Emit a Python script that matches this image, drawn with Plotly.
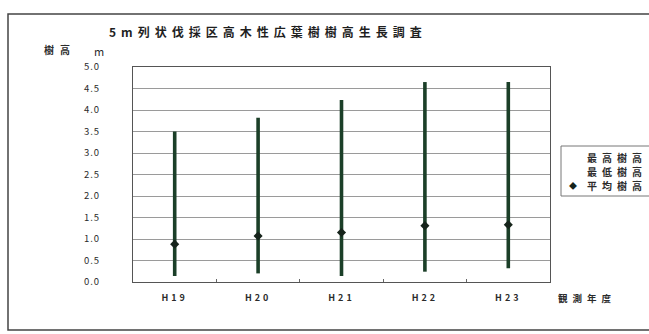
import plotly.graph_objects as go

# Survey years and tree-height statistics (m)
years = ["H19", "H20", "H21", "H22", "H23"]
max_height = [3.50, 3.82, 4.23, 4.65, 4.65]
min_height = [0.14, 0.20, 0.14, 0.24, 0.32]
mean_height = [0.88, 1.07, 1.15, 1.31, 1.33]
y_ticks = [0.0, 0.5, 1.0, 1.5, 2.0, 2.5, 3.0, 3.5, 4.0, 4.5, 5.0]
legend_labels = ["最高樹高", "最低樹高", "平均樹高"]

W, H = 649, 334
L, R, T, B = 133, 99, 67, 52
PW, PH = W - L - R, H - T - B
FONT = "Noto Sans CJK JP"
INK = "#2b2b2b"


def px(x):
    return (x - L) / PW


def py(y):
    return (H - B - y) / PH


def spaced(s, gap=4):
    return f'<span style="letter-spacing:{gap}px">{s}</span>'


fig = go.Figure()

# high-low lines between the lowest and highest tree of each year
hx, hy = [], []
for yr, lo, hi in zip(years, min_height, max_height):
    hx += [yr, yr, None]
    hy += [lo, hi, None]
fig.add_trace(go.Scatter(x=hx, y=hy, mode="lines",
                         line=dict(color="#1b3f28", width=3.6),
                         hoverinfo="skip", showlegend=False))

fig.add_trace(go.Scatter(x=years, y=max_height, mode="markers", name=legend_labels[0],
                         marker=dict(size=1, opacity=0), showlegend=False))
fig.add_trace(go.Scatter(x=years, y=min_height, mode="markers", name=legend_labels[1],
                         marker=dict(size=1, opacity=0), showlegend=False))
fig.add_trace(go.Scatter(x=years, y=mean_height, mode="markers", name=legend_labels[2],
                         marker=dict(symbol="diamond", size=7, color="#16241b",
                                     line=dict(width=0)),
                         showlegend=False))

fig.update_xaxes(type="category", categoryorder="array", categoryarray=years,
                 range=[-0.5, len(years) - 0.5],
                 tickvals=years, ticktext=[spaced(y, 3) for y in years],
                 tickson="boundaries", ticks="inside", ticklen=3,
                 tickcolor="#666", showline=True, linecolor="#555", linewidth=1,
                 mirror=True, showgrid=False, ticklabelstandoff=7,
                 tickfont=dict(family=FONT, size=9, color=INK, weight="bold"))
fig.update_yaxes(range=[0, 5], tickvals=y_ticks,
                 ticktext=[spaced(f"{v:.1f}", 1) for v in y_ticks],
                 showline=True, linecolor="#555", linewidth=1, mirror=True,
                 showgrid=True, gridcolor="#9a9a9a", gridwidth=1,
                 zeroline=False, ticks="", ticklabelstandoff=30,
                 tickfont=dict(family=FONT, size=9.5, color=INK))

annotations = [
    dict(text=spaced("5m列状伐採区高木性広葉樹樹高生長調査", 5),
         x=px(268), y=py(32), xanchor="center", yanchor="middle",
         font=dict(family=FONT, size=12, color="#1f1f1f", weight="bold")),
    dict(text=spaced("樹高", 6), x=px(42), y=py(50),
         xanchor="left", yanchor="middle",
         font=dict(family=FONT, size=10, color=INK, weight="bold")),
    dict(text="m", x=px(92), y=py(51),
         xanchor="left", yanchor="middle",
         font=dict(family=FONT, size=11, color=INK)),
    dict(text=spaced("観測年度", 5), x=px(556), y=py(298),
         xanchor="left", yanchor="middle",
         font=dict(family=FONT, size=9.5, color=INK, weight="bold")),
    dict(text="◆", x=px(567), y=py(185), xanchor="left", yanchor="middle",
         font=dict(family=FONT, size=8, color="#16241b")),
]
# legend rows, one annotation each
legend_rows = [(legend_labels[0], 157), (legend_labels[1], 171),
               (legend_labels[2], 185)]
for label, ly in legend_rows:
    annotations.append(dict(text=spaced(label, 5), x=px(585), y=py(ly),
                            xanchor="left", yanchor="middle",
                            font=dict(family=FONT, size=10, color=INK,
                                      weight="bold")))
for a in annotations:
    a.update(xref="paper", yref="paper", showarrow=False)

shapes = [
    # outer chart frame
    dict(type="rect", xref="paper", yref="paper",
         x0=px(8), x1=px(680), y0=py(330), y1=py(14),
         line=dict(color="#444", width=1.5)),
    # legend frame
    dict(type="rect", xref="paper", yref="paper",
         x0=px(561), x1=px(700), y0=py(196), y1=py(146),
         line=dict(color="#777", width=1)),
]

fig.update_layout(width=W, height=H, margin=dict(l=L, r=R, t=T, b=B),
                  paper_bgcolor="white", plot_bgcolor="white",
                  annotations=annotations, shapes=shapes, showlegend=False)

fig.write_html("out.html")
